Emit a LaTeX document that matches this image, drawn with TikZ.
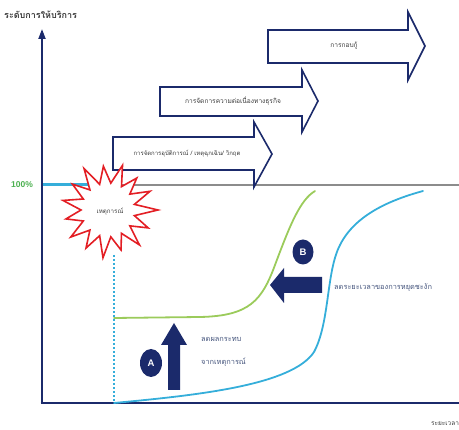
\documentclass[tikz,border=0pt]{standalone}
\usepackage{fontspec}
\setmainfont{Liberation Sans}
\newfontfamily\thai[Script=Thai]{Loma}
\usetikzlibrary{arrows.meta,shapes.geometric}
\definecolor{navy}{HTML}{1B2A6B}
\definecolor{lblue}{HTML}{35AEDA}
\definecolor{lgreen}{HTML}{9BCB5B}
\definecolor{pgreen}{HTML}{4CB050}
\definecolor{sred}{HTML}{E31E24}
\definecolor{lgray}{HTML}{8C8C8C}
\definecolor{tgray}{HTML}{3A3A3A}
\definecolor{tblue}{HTML}{44547C}
\tikzset{
  blockarrow/.style={draw=navy, line width=1.6pt, fill=white, line join=miter},
  solidarrow/.style={fill=navy, draw=none},
  boxtext/.style={font=\thai\fontsize{6.6}{8}\selectfont, text=tgray, inner sep=1pt},
  notetext/.style={font=\thai\fontsize{7.4}{9}\selectfont, text=tblue, inner sep=1pt, anchor=west},
  badge/.style={ellipse, fill=navy, text=white, inner sep=0pt, font=\bfseries\fontsize{9.5}{11}\selectfont},
  axis/.style={draw=navy, line width=2.6pt},
  curve/.style={line width=1.8pt, line cap=round}
}
\begin{document}
\begin{tikzpicture}[x=1pt,y=-1pt]
\useasboundingbox (0,0) rectangle (459,430);
\clip (0,0) rectangle (459,430);

% 100% reference line
\coordinate (hl0) at (42,185);
\coordinate (hl1) at (459,185);
\coordinate (hb1) at (100,185);
\draw[lgray, line width=1.6pt] (hl0) -- (hl1);
\draw[lblue, line width=3pt] (hl0) -- (hb1);

% block arrows
\draw[blockarrow] (268,30) -- (408,30) -- (408,12) -- (425,46) -- (408,80) -- (408,63) -- (268,63) -- cycle;
\node[boxtext] (t1) at (344,46) {การกอบกู้};
\draw[blockarrow] (160,87) -- (302,87) -- (302,70) -- (318,101) -- (302,132) -- (302,116) -- (160,116) -- cycle;
\node[boxtext] (t2) at (233,101) {การจัดการความต่อเนื่องทางธุรกิจ};
\draw[blockarrow] (113,137) -- (254,137) -- (254,122) -- (272,154) -- (254,187) -- (254,170) -- (113,170) -- cycle;
\node[boxtext, font=\thai\fontsize{6}{7}\selectfont] (t3) at (187,154) {การจัดการอุบัติการณ์ / เหตุฉุกเฉิน/ วิกฤต};

% axes
\coordinate (o) at (42,403);
\coordinate (ytop) at (42,29);
\coordinate (xend) at (459,403);
\draw[axis, line width=2pt, -{Triangle[width=7pt,length=10pt]}] (42,404) -- (ytop);
\draw[axis] (40.7,403) -- (xend);
\node[font=\thai\bfseries\fontsize{9}{11}\selectfont, text=tgray, anchor=west, inner sep=0pt] (ylab) at (4,15) {ระดับการให้บริการ};
\node[font=\bfseries\fontsize{8.5}{10}\selectfont, text=pgreen, inner sep=0pt] (pct) at (22,185) {100\%};
\node[font=\thai\fontsize{6.5}{8}\selectfont, text=tgray, anchor=west, inner sep=0pt] (xlab) at (431,424) {ระยะเวลา};

% dotted drop line
\coordinate (d0) at (114,255);
\coordinate (d1) at (114,401);
\draw[lblue, line width=1.8pt, dash pattern=on 1.6pt off 2.4pt] (d0) -- (d1);

% curves
\coordinate (g0) at (114,318);
\coordinate (g1) at (315,191);
\draw[lgreen, curve] (g0) -- (200,317) .. controls (250,316) and (262,300) .. (275,265) .. controls (290,225) and (300,200) .. (g1);
\coordinate (b0) at (114,403);
\coordinate (b1) at (423,191);
\draw[lblue, curve] (b0) .. controls (200,395) and (292,385) .. (314,352) .. controls (330,322) and (326,272) .. (340,245) .. controls (355,215) and (390,200) .. (b1);

% starburst
\draw[sred, line width=1.6pt, fill=white, line join=miter, shift={(108,210)}]
  (0:50) -- (12:27) -- (24:44) -- (36:27) -- (48:47) -- (60:27) -- (72:42) -- (84:27)
  -- (96:48) -- (108:27) -- (120:44) -- (132:27) -- (144:46) -- (156:27) -- (168:43) -- (180:27)
  -- (192:46) -- (204:27) -- (216:44) -- (228:27) -- (240:48) -- (252:27) -- (264:44) -- (276:27)
  -- (288:47) -- (300:27) -- (312:43) -- (324:27) -- (336:46) -- (348:27) -- cycle;
\node[font=\thai\fontsize{6.2}{7}\selectfont, text=tgray, inner sep=0pt] (evt) at (110,212) {เหตุการณ์};

% arrow A
\fill[solidarrow] (168,390) -- (168,345) -- (161,345) -- (174,323) -- (187,345) -- (180,345) -- (180,390) -- cycle;
\node[badge, minimum width=22pt, minimum height=28pt] (A) at (151,363) {A};
\node[notetext] (ta1) at (200,339) {ลดผลกระทบ};
\node[notetext] (ta2) at (200,362) {จากเหตุการณ์};

% arrow B
\fill[solidarrow] (322,277) -- (284,277) -- (284,268) -- (270,285) -- (284,303) -- (284,293) -- (322,293) -- cycle;
\node[badge, minimum width=21pt, minimum height=25pt] (B) at (303,252) {B};
\node[notetext] (tb) at (333,288) {ลดระยะเวลาของการหยุดชะงัก};
\end{tikzpicture}
\end{document}
